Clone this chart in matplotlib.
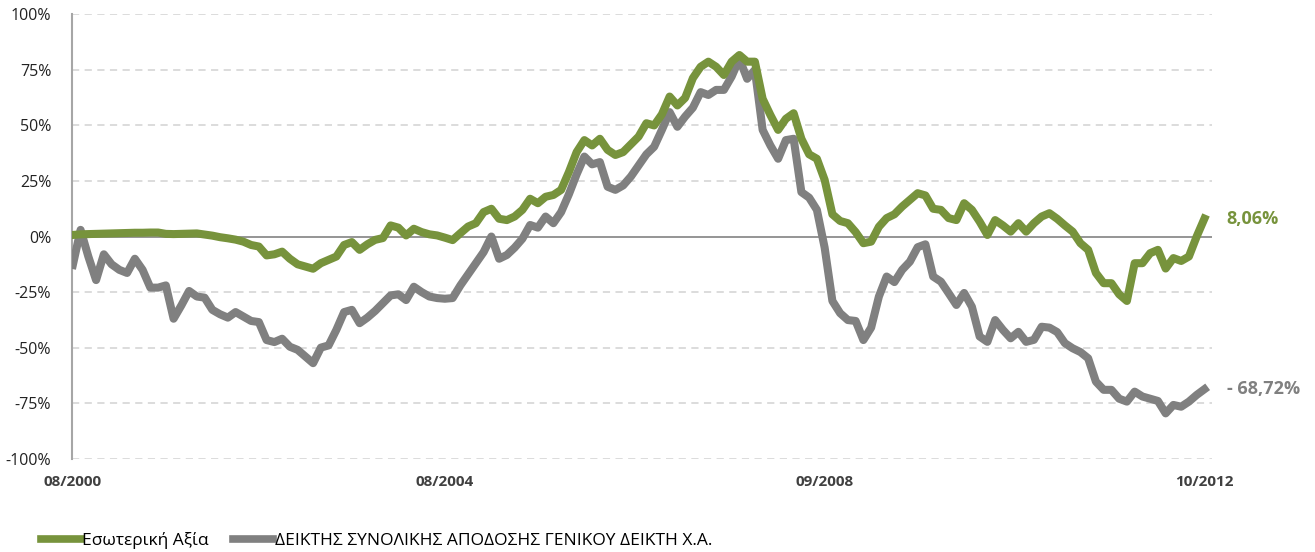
import numpy as np
import matplotlib
matplotlib.use("Agg")
from matplotlib import pyplot as plt
from matplotlib.lines import Line2D

# monthly values, 08/2000 .. 10/2012 (in %)
green = [0.7, 1.0, 1.1, 1.2, 1.3, 1.4, 1.5, 1.6, 1.7, 1.7,
         1.8, 1.8, 1.2, 1.1, 1.2, 1.3, 1.4, 0.9, 0.4, -0.3,
         -0.8, -1.4, -2.3, -3.8, -4.5, -8.5, -8.0, -6.8, -10.0, -12.5,
         -13.5, -14.5, -12.0, -10.5, -9.0, -3.8, -2.5, -6.0, -3.5, -1.5,
         -0.7, 5.0, 4.0, 0.5, 3.5, 2.0, 1.0, 0.5, -0.5, -1.6,
         1.5, 4.5, 6.0, 11.0, 12.5, 8.0, 7.4, 9.0, 12.0, 17.0,
         15.0, 17.9, 18.7, 21.0, 29.0, 38.0, 43.4, 41.0, 44.0, 39.0,
         36.7, 38.0, 41.5, 45.0, 51.0, 50.0, 55.0, 63.0, 59.0, 62.4,
         71.3, 76.4, 78.7, 76.4, 72.7, 78.7, 81.7, 78.7, 78.7, 62.0,
         54.7, 48.0, 53.0, 55.5, 44.0, 37.0, 35.0, 25.5, 10.0, 7.0,
         6.0, 2.0, -3.0, -2.3, 4.4, 8.3, 10.0, 13.5, 16.5, 19.5,
         18.5, 12.5, 12.0, 8.3, 7.4, 15.0, 12.0, 6.7, 0.7, 7.4,
         5.0, 2.2, 6.0, 2.2, 6.0, 9.0, 10.5, 8.0, 5.0, 2.2,
         -3.0, -6.0, -16.4, -21.0, -21.0, -26.0, -29.0, -12.0, -12.0, -7.5,
         -6.0, -14.4, -9.7, -11.0, -9.0, 0.0, 8.06]

grey = [-12.8, 3.0, -9.0, -19.6, -8.0, -12.5, -15.0, -16.4, -10.0, -15.0,
        -23.0, -23.0, -22.0, -37.0, -31.0, -24.5, -27.0, -27.5, -33.0, -35.0,
        -36.5, -34.0, -36.0, -38.0, -38.5, -46.6, -47.5, -46.0, -49.6, -51.0,
        -54.0, -57.0, -50.0, -49.0, -42.0, -34.0, -33.0, -39.0, -36.5, -33.5,
        -30.0, -26.5, -26.0, -28.6, -22.6, -25.0, -27.0, -27.7, -28.0, -27.7,
        -22.0, -17.0, -12.0, -7.0, 0.0, -10.0, -8.3, -5.0, -1.0, 5.2,
        4.0, 9.0, 6.0, 11.0, 19.0, 28.0, 36.0, 32.5, 33.5, 22.4,
        21.0, 23.0, 27.0, 32.0, 37.0, 40.4, 48.0, 56.0, 49.4, 54.0,
        58.0, 65.0, 63.7, 66.0, 66.0, 72.0, 80.0, 71.0, 75.0, 48.0,
        41.0, 35.0, 43.4, 44.0, 20.0, 17.5, 12.0, -5.0, -29.0, -34.5,
        -37.6, -38.0, -46.6, -41.0, -27.0, -18.0, -20.5, -15.0, -11.3, -4.8,
        -3.5, -18.0, -20.3, -25.5, -30.8, -25.4, -31.6, -45.0, -47.4, -37.6,
        -42.0, -45.8, -42.9, -47.4, -46.5, -40.6, -41.0, -43.0, -48.0, -50.3,
        -52.0, -54.8, -65.3, -69.0, -69.0, -73.0, -74.3, -69.8, -72.0, -73.0,
        -74.0, -79.6, -75.8, -76.6, -74.3, -71.3, -68.72]

tick_pos = [0, 48, 97, 146]
tick_labels = ["08/2000", "08/2004", "09/2008", "10/2012"]
names = ["Εσωτερική Αξία", "ΔΕΙΚΤΗΣ ΣΥΝΟΛΙΚΗΣ ΑΠΟΔΟΣΗΣ ΓΕΝΙΚΟΥ ΔΕΙΚΤΗ Χ.Α."]
end_labels = ["8,06%", "- 68,72%"]

c_green = "#77933C"
c_grey = "#808080"

plt.rcParams['font.family'] = ['Open Sans', 'DejaVu Sans']

fig = plt.figure(figsize=(13.15, 5.52), dpi=100)
ax = fig.add_axes([0.0548, 0.169, 0.867, 0.805])

x = np.arange(len(green))
ax.plot(x, grey, color=c_grey, lw=5.8, solid_joinstyle='round', zorder=3)
ax.plot(x, green, color=c_green, lw=5.8, solid_joinstyle='round', zorder=4)

ax.set_xlim(-0.1, 147)
ax.set_ylim(-100, 100)
yt = np.arange(-100, 101, 25)
ax.set_yticks(yt)
ax.set_yticklabels([f"{v}%" for v in yt], fontsize=11.5, color="#222222")
ax.set_xticks(tick_pos)
ax.set_xticklabels(tick_labels, fontsize=11, fontweight='bold', color="#404040")
ax.tick_params(axis='both', length=0)
ax.tick_params(axis='y', pad=15)
ax.tick_params(axis='x', pad=12)

for v in yt:
    if v == 0:
        continue
    ax.axhline(v, color="#D9D9D9", lw=1.3, ls=(0, (4, 3)), zorder=1)
ax.axhline(0, color="#8C8C8C", lw=1.3, zorder=2)

for s in ["top", "right", "bottom"]:
    ax.spines[s].set_visible(False)
ax.spines["left"].set_color("#A6A6A6")
ax.spines["left"].set_linewidth(1.5)

# end values
ax.annotate(end_labels[0], xy=(x[-1], green[-1]), xytext=(16, 0),
            textcoords="offset points", va="center", ha="left",
            fontsize=13, fontweight='bold', color=c_green)
ax.annotate(end_labels[1], xy=(x[-1], grey[-1]), xytext=(16, 0),
            textcoords="offset points", va="center", ha="left",
            fontsize=13, fontweight='bold', color=c_grey)

handles = [Line2D([], [], color=c_green, lw=5.5),
           Line2D([], [], color=c_grey, lw=5.5)]
fig.legend(handles, names, loc="center left", bbox_to_anchor=(0.019, 0.02),
           ncol=2, frameon=False, fontsize=12.5, handlelength=2.3,
           handletextpad=0.1, columnspacing=1.4)

fig.savefig("out.png", dpi=100)
